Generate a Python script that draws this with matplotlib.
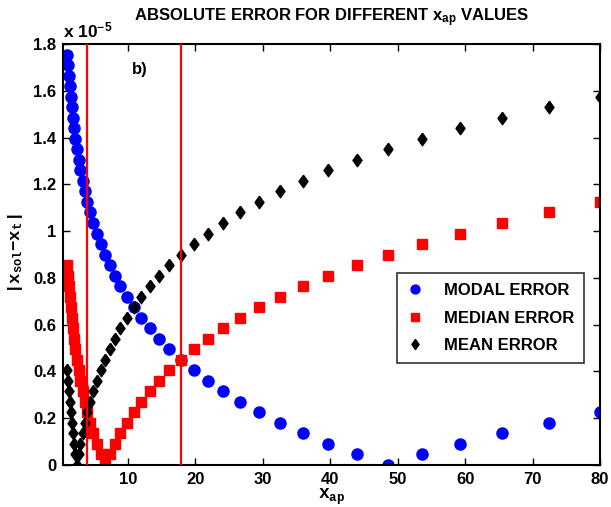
import numpy as np
import matplotlib
matplotlib.use('Agg')
import matplotlib.pyplot as plt

plt.rcParams['font.family'] = ['Liberation Sans', 'DejaVu Sans']
plt.rcParams['mathtext.fontset'] = 'custom'
plt.rcParams['mathtext.rm'] = 'Liberation Sans:bold'
plt.rcParams['mathtext.bf'] = 'Liberation Sans:bold'
plt.rcParams['mathtext.it'] = 'Liberation Sans:bold'
plt.rcParams['mathtext.tt'] = 'Liberation Mono:bold'

# x_ap values
x_ap = [80.00, 72.39, 65.50, 59.27, 53.63, 48.52, 43.90, 39.73, 35.95, 32.53,
        29.43, 26.63, 24.10, 21.80, 19.73, 17.85, 16.15, 14.61, 13.22, 11.96,
        10.83, 9.80, 8.86, 8.02, 7.26, 6.57, 5.94, 5.38, 4.87, 4.40,
        3.98, 3.60, 3.26, 2.95, 2.67, 2.42, 2.19, 1.98, 1.79, 1.62,
        1.47, 1.33, 1.20, 1.09, 0.98]

# errors in units of 1e-5
modal_err = [0.225, 0.180, 0.135, 0.090, 0.045, 0.000, 0.045, 0.090, 0.135, 0.180,
             0.225, 0.270, 0.315, 0.360, 0.405, 0.450, 0.495, 0.540, 0.585, 0.630,
             0.675, 0.720, 0.765, 0.810, 0.855, 0.900, 0.945, 0.990, 1.035, 1.080,
             1.125, 1.170, 1.215, 1.260, 1.305, 1.350, 1.395, 1.440, 1.485, 1.530,
             1.575, 1.620, 1.665, 1.710, 1.755]
median_err = [1.125, 1.080, 1.035, 0.990, 0.945, 0.900, 0.855, 0.810, 0.765, 0.720,
              0.675, 0.630, 0.585, 0.540, 0.495, 0.450, 0.405, 0.360, 0.315, 0.270,
              0.225, 0.180, 0.135, 0.090, 0.045, 0.000, 0.045, 0.090, 0.135, 0.180,
              0.225, 0.270, 0.315, 0.360, 0.405, 0.450, 0.495, 0.540, 0.585, 0.630,
              0.675, 0.720, 0.765, 0.810, 0.855]
mean_err = [1.575, 1.530, 1.485, 1.440, 1.395, 1.350, 1.305, 1.260, 1.215, 1.170,
            1.125, 1.080, 1.035, 0.990, 0.945, 0.900, 0.855, 0.810, 0.765, 0.720,
            0.675, 0.630, 0.585, 0.540, 0.495, 0.450, 0.405, 0.360, 0.315, 0.270,
            0.225, 0.180, 0.135, 0.090, 0.045, 0.000, 0.045, 0.090, 0.135, 0.180,
            0.225, 0.270, 0.315, 0.360, 0.405]

vlines = [3.85, 17.8]
xticks = [10, 20, 30, 40, 50, 60, 70, 80]
yticks = [0, 0.2, 0.4, 0.6, 0.8, 1.0, 1.2, 1.4, 1.6, 1.8]
ytick_labels = ['0', '0.2', '0.4', '0.6', '0.8', '1', '1.2', '1.4', '1.6', '1.8']

fig = plt.figure(figsize=(6.11, 5.07), dpi=100)
ax = fig.add_axes([0.1036, 0.0828, 0.8784, 0.8302])

# thicker diamond like matlab's
diamond = [(0, 1), (0.72, 0), (0, -1), (-0.72, 0), (0, 1)]

ax.plot(x_ap, modal_err, 'o', color='#0000ff', markersize=8, mec='#0000ff',
        label='MODAL ERROR')
ax.plot(x_ap, median_err, 's', color='#ff0000', markersize=6.5, mec='#ff0000',
        label='MEDIAN ERROR')
ax.plot(x_ap, mean_err, marker=diamond, ls='none', color='black', markersize=9,
        label='MEAN ERROR')
for v in vlines:
    ax.axvline(v, color='#ff0000', lw=1.6, zorder=5)

ax.set_xlim(0.4, 80)
ax.set_ylim(0, 1.8)
ax.set_xticks(xticks)
ax.set_yticks(yticks)
ax.set_yticklabels(ytick_labels)
ax.tick_params(direction='in', top=True, right=True, length=5, width=1,
               labelsize=12, pad=5)
for lab in ax.get_xticklabels() + ax.get_yticklabels():
    lab.set_fontweight('bold')
for s in ax.spines.values():
    s.set_linewidth(1.5)

ax.text(0.0, 1.008, r'x 10$^{-5}$', transform=ax.transAxes, fontsize=12.5,
        fontweight='bold', ha='left', va='bottom')
ax.text(0.128, 0.93, 'b)', transform=ax.transAxes, fontsize=12,
        fontweight='bold')
fig.text(0.543, 0.966, r'ABSOLUTE ERROR FOR DIFFERENT $\mathbf{x_{ap}}$ VALUES',
         fontsize=12, fontweight='bold', ha='center', va='center')
ax.set_xlabel(r'$\mathtt{x_{ap}}$', fontsize=13, labelpad=0)
fig.text(0.025, 0.5, r'$\mathtt{|x_{sol}{-}x_t|}$', fontsize=12.5,
         rotation=90, ha='center', va='center')

leg = ax.legend(loc='upper left', bbox_to_anchor=(0.622, 0.456),
                borderaxespad=0, fontsize=12, frameon=True, fancybox=False,
                edgecolor='black', handlelength=1.0, handletextpad=1.2,
                labelspacing=0.75, borderpad=0.6, markerscale=0.8)
leg.get_frame().set_linewidth(1.2)
for t in leg.get_texts():
    t.set_fontweight('bold')

fig.savefig('out.png', dpi=100)
